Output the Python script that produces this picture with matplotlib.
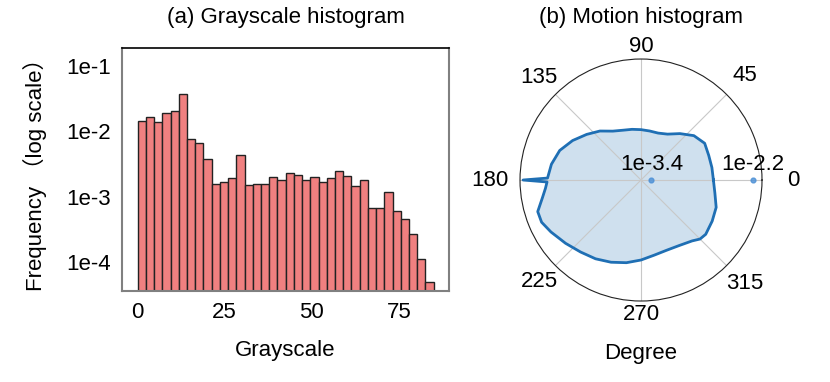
import numpy as np
import matplotlib
matplotlib.use("Agg")
import matplotlib.pyplot as plt

plt.rcParams['font.family'] = ['Liberation Sans', 'Noto Sans CJK SC', 'DejaVu Sans']

# ---- (a) Grayscale histogram data ----
gray_range = [0, 85]
gray_freq = [0.01422, 0.01675, 0.01371, 0.01884, 0.02018, 0.03673, 0.00755, 0.00662,
             0.00378, 0.00155, 0.00165, 0.00190, 0.00431, 0.00150, 0.00159, 0.00155,
             0.00203, 0.00183, 0.00234, 0.00215, 0.00177, 0.00200, 0.00166, 0.00191,
             0.00251, 0.00206, 0.00146, 0.00177, 0.000667, 0.000667, 0.00120, 0.000615,
             0.000449, 0.000265, 0.000110, 0.0000490]
gray_xticks = [0, 25, 50, 75]
gray_yticks = [1e-1, 1e-2, 1e-3, 1e-4]
gray_yticklabels = ['1e-1', '1e-2', '1e-3', '1e-4']

# ---- (b) Motion histogram data (log10 of frequency per direction) ----
motion_deg = [0, 10, 20, 30, 40, 50, 60, 70, 80, 90, 100, 110, 120, 130, 140, 150,
              160, 170, 178.8, 180, 181.2, 185, 190, 197, 203, 210, 220, 230, 240,
              250, 260, 270, 280, 290, 300, 310, 315, 320, 330, 340, 350, 360]
motion_log10 = [-2.665, -2.670, -2.669, -2.652, -2.705, -2.805, -2.895, -2.931, -2.933,
                -2.926, -2.913, -2.895, -2.854, -2.765, -2.682, -2.587, -2.498, -2.445,
                -2.415, -2.125, -2.409, -2.386, -2.338, -2.243, -2.243, -2.291, -2.356,
                -2.409, -2.445, -2.486, -2.528, -2.575, -2.619, -2.637, -2.625, -2.581,
                -2.534, -2.522, -2.549, -2.575, -2.634, -2.665]
motion_rticks = [-3.4, -2.2]
motion_rticklabels = ['1e-3.4', '1e-2.2']
theta_ticks = [0, 45, 90, 135, 180, 225, 270, 315]
theta_labels = ['0', '45', '90', '135', '180', '225', '270', '315']

FS = 16

fig = plt.figure(figsize=(8.3, 3.82), dpi=100)

# ---------- left: histogram ----------
ax1 = fig.add_axes([0.147, 0.2382, 0.394, 0.636])
edges = np.linspace(gray_range[0], gray_range[1], len(gray_freq) + 1)
ax1.bar(edges[:-1], gray_freq, width=np.diff(edges), align='edge',
        color='#f08080', edgecolor='#222222', linewidth=1.0)
ax1.set_yscale('log')
ax1.set_ylim(10 ** -4.44, 10 ** -0.73)
ax1.set_xlim(-4.5, 89.4)
ax1.set_xticks(gray_xticks)
ax1.set_xticklabels([str(v) for v in gray_xticks])
ax1.set_yticks(gray_yticks)
ax1.set_yticklabels(gray_yticklabels)
ax1.minorticks_off()
ax1.tick_params(length=0, labelsize=FS, pad=8)
for side in ['left', 'right', 'bottom']:
    ax1.spines[side].set_color('#808080')
    ax1.spines[side].set_linewidth(1.5)
ax1.spines['top'].set_color('black')
ax1.spines['top'].set_linewidth(1.2)
ax1.set_title('(a) Grayscale histogram', fontsize=FS, pad=0, y=1.103)
ax1.set_xlabel('Grayscale', fontsize=FS, labelpad=12)
ax1.set_ylabel('Frequency （log scale）', fontsize=FS, labelpad=14)

# ---------- right: polar ----------
ax2 = fig.add_axes([0.6265, 0.212, 0.2916, 0.6335], projection='polar')
th = np.deg2rad(motion_deg)
ax2.fill(th, motion_log10, color='#cfe0ee', zorder=1)
ax2.plot(th, motion_log10, color='#1f6fb4', linewidth=2.0, zorder=2)
ax2.set_ylim(-3.523, -2.089)
ax2.set_yticks(motion_rticks)
ax2.set_yticklabels([])
ax2.yaxis.grid(False)
ax2.set_xticks(np.deg2rad(theta_ticks))
ax2.set_xticklabels(theta_labels)
ax2.xaxis.grid(True, color='#c8c8c8', linewidth=0.8)
ax2.tick_params(axis='x', labelsize=FS)
pads = [11.7, 8.5, -1.8, 6.8, 11.1, 6.0, -0.6, 8.0]
for tick, p in zip(ax2.xaxis.get_major_ticks(), pads):
    tick.set_pad(p)
ax2.spines['polar'].set_color('#222222')
ax2.spines['polar'].set_linewidth(0.8)
ax2.scatter([0, 0], motion_rticks, s=12, color='#4a8fd6', alpha=0.8, zorder=3)
for r, lab in zip(motion_rticks, motion_rticklabels):
    ax2.annotate(lab, xy=(0, r), xytext=(0, 11), textcoords='offset points',
                 ha='center', va='center', fontsize=FS, zorder=4)
ax2.set_title('(b) Motion histogram', fontsize=FS, pad=0, y=1.149)
ax2.set_xlabel('Degree', fontsize=FS, labelpad=13)

fig.savefig('out.png', dpi=100)
